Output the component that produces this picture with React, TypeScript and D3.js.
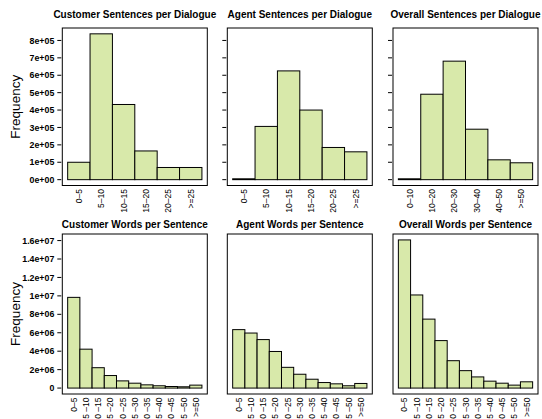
import * as d3 from "d3";

// --- data ---
const sentLabels = ["0–5", "5–10", "10–15", "15–20", "20–25", ">=25"];
const overallSentLabels = ["0–10", "10–20", "20–30", "30–40", "40–50", ">=50"];
const wordLabels = [
  "0–5", "5 –10", "10 –15", "15 –20", "20 –25", "25 –30",
  "30 –35", "35 –40", "40 –45", "45 –50", ">=50",
];

const customerSentences = [1.0e5, 8.38e5, 4.32e5, 1.65e5, 0.7e5, 0.7e5];
const agentSentences = [0.05e5, 3.06e5, 6.25e5, 4.0e5, 1.85e5, 1.6e5];
const overallSentences = [0.05e5, 4.91e5, 6.81e5, 2.9e5, 1.14e5, 0.97e5];

const customerWords = [9.84e6, 4.22e6, 2.21e6, 1.36e6, 0.78e6, 0.53e6, 0.35e6, 0.25e6, 0.17e6, 0.14e6, 0.32e6];
const agentWords = [6.34e6, 5.97e6, 5.26e6, 3.97e6, 2.25e6, 1.5e6, 0.96e6, 0.6e6, 0.46e6, 0.25e6, 0.5e6];
const overallWords = [16.07e6, 10.1e6, 7.48e6, 5.15e6, 2.97e6, 1.89e6, 1.21e6, 0.75e6, 0.53e6, 0.32e6, 0.68e6];

const sentTicks = d3.range(0, 9).map((d) => d * 1e5);
const sentTickLabels = ["0e+00", "1e+05", "2e+05", "3e+05", "4e+05", "5e+05", "6e+05", "7e+05", "8e+05"];
const wordTicks = d3.range(0, 9).map((d) => d * 2e6);
const wordTickLabels = ["0", "2e+06", "4e+06", "6e+06", "8e+06", "1e+07", "1.2e+07", "1.4e+07", "1.6e+07"];

const W = 542;
const H = 419;
const FILL = "#d8e9aa";
const FONT = "Liberation Sans, Arial, Helvetica, sans-serif";

const boxLefts = [62.3, 227.3, 393];
const boxW = 145;

const rows = [
  {
    top: 28, bottom: 185.5, titleY: 18,
    ticks: sentTicks, tickLabels: sentTickLabels,
    panels: [
      { title: "Customer Sentences per Dialogue", values: customerSentences, labels: sentLabels },
      { title: "Agent Sentences per Dialogue", values: agentSentences, labels: sentLabels },
      { title: "Overall Sentences per Dialogue", values: overallSentences, labels: overallSentLabels },
    ],
    tickPanels: [0, 1, 2],
  },
  {
    top: 234, bottom: 394, titleY: 228,
    ticks: wordTicks, tickLabels: wordTickLabels,
    panels: [
      { title: "Customer Words per Sentence", values: customerWords, labels: wordLabels },
      { title: "Agent Words per Sentence", values: agentWords, labels: wordLabels },
      { title: "Overall Words per Sentence", values: overallWords, labels: wordLabels },
    ],
    tickPanels: [0],
  },
];

export default function App() {
  return (
    <svg
      width={W}
      height={H}
      style={{ position: "absolute", left: 0, top: 0, background: "#fff" }}
      fontFamily={FONT}
    >
      {rows.map((row, ri) => {
        const ymax = d3.max(row.panels.flatMap((p) => p.values)) as number;
        const y = d3
          .scaleLinear()
          .domain([-0.04 * ymax, 1.04 * ymax])
          .range([row.bottom, row.top]);
        return (
          <g key={ri}>
            <text
              transform={`translate(20,${(row.top + row.bottom) / 2}) rotate(-90)`}
              textAnchor="middle"
              fontSize={13.5}
            >
              Frequency
            </text>
            {row.panels.map((p, pi) => {
              const left = boxLefts[pi];
              const n = p.values.length;
              const x = d3
                .scaleLinear()
                .domain([-0.04 * n, 1.04 * n])
                .range([left, left + boxW]);
              return (
                <g key={pi}>
                  <text
                    x={left + boxW / 2}
                    y={row.titleY}
                    textAnchor="middle"
                    fontSize={10}
                    fontWeight="bold"
                  >
                    {p.title}
                  </text>
                  {p.values.map((v, i) => (
                    <rect
                      key={i}
                      x={x(i)}
                      y={y(v)}
                      width={x(i + 1) - x(i)}
                      height={y(0) - y(v)}
                      fill={FILL}
                      stroke="#000"
                      strokeWidth={1}
                    />
                  ))}
                  <rect
                    x={left}
                    y={row.top}
                    width={boxW}
                    height={row.bottom - row.top}
                    fill="none"
                    stroke="#000"
                    strokeWidth={1}
                  />
                  {p.labels.map((l, i) => (
                    <text
                      key={i}
                      transform={`translate(${x(i + 0.5) + 3},${row.bottom + 3.5}) rotate(-90)`}
                      textAnchor="end"
                      fontSize={8.5}
                    >
                      {l}
                    </text>
                  ))}
                  {row.tickPanels.includes(pi) &&
                    row.ticks.map((t, i) => (
                      <g key={i}>
                        <line
                          x1={left - 5}
                          x2={left - 1}
                          y1={y(t)}
                          y2={y(t)}
                          stroke="#000"
                          strokeWidth={1}
                        />
                        {pi === 0 && (
                          <text
                            x={left - 8}
                            y={y(t)}
                            dy="0.35em"
                            textAnchor="end"
                            fontSize={8.8}
                            fontWeight="bold"
                          >
                            {row.tickLabels[i]}
                          </text>
                        )}
                      </g>
                    ))}
                </g>
              );
            })}
          </g>
        );
      })}
    </svg>
  );
}
